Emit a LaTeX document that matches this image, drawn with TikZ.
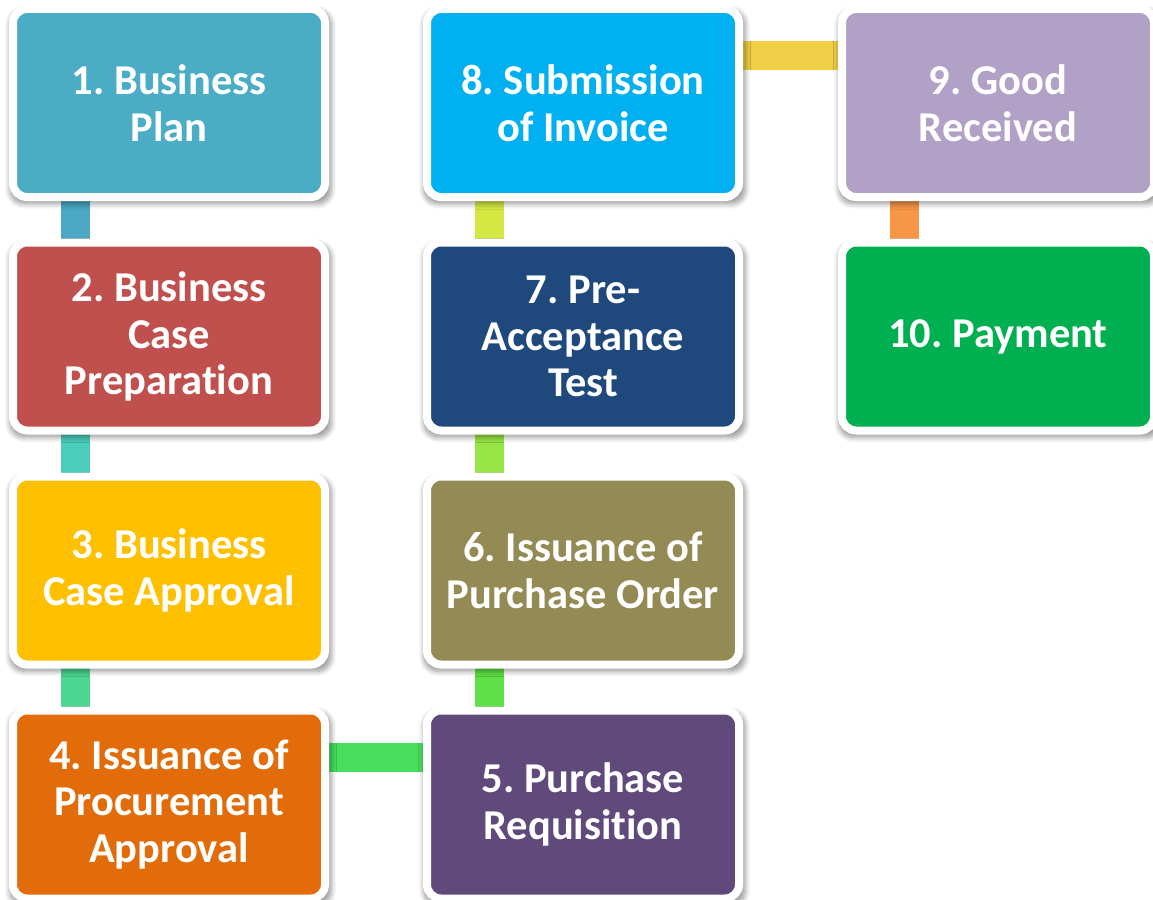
\documentclass[tikz,border=0pt]{standalone}
\usepackage{fontspec}
\setmainfont{Carlito}[Ligatures=NoCommon]
\frenchspacing
\usetikzlibrary{shadows.blur,backgrounds}

% box fills
\definecolor{boxA}{HTML}{4BACC6}
\definecolor{boxB}{HTML}{C0504D}
\definecolor{boxC}{HTML}{FFC000}
\definecolor{boxD}{HTML}{E36C0A}
\definecolor{boxE}{HTML}{604A7B}
\definecolor{boxF}{HTML}{948A54}
\definecolor{boxG}{HTML}{1F497D}
\definecolor{boxH}{HTML}{00B0F0}
\definecolor{boxI}{HTML}{B2A1C7}
\definecolor{boxJ}{HTML}{00B050}
% connector bars
\definecolor{linkAB}{HTML}{4AA8C4}
\definecolor{linkBC}{HTML}{4BCDBB}
\definecolor{linkCD}{HTML}{4CD690}
\definecolor{linkDE}{HTML}{4ADE5E}
\definecolor{linkEF}{HTML}{5EE146}
\definecolor{linkFG}{HTML}{98E646}
\definecolor{linkGH}{HTML}{D4E843}
\definecolor{linkHI}{HTML}{F0CE46}
\definecolor{linkIJ}{HTML}{F79646}

\begin{document}
\begin{tikzpicture}[x=1pt,y=-1pt,
  stepbox/.style={rectangle, rounded corners=14pt, draw=white, line width=8pt,
    minimum width=312pt, minimum height=188pt, inner sep=0pt, outer sep=0pt,
    text=white, align=center,
    font=\fontsize{42.5}{46.5}\selectfont\bfseries,
    blur shadow={shadow xshift=1.5pt, shadow yshift=-4pt, shadow scale=1.03,
      shadow opacity=40, shadow blur radius=5pt, shadow blur steps=8}},
  bar/.style={line width=29pt}
]
\useasboundingbox (0,0) rectangle (1153,899);

% left column
\node[stepbox, fill=boxA] (b1) at (169,103)   {1. Business\\Plan};
\node[stepbox, fill=boxB] (b2) at (169,336.5) {2. Business\\Case\\Preparation};
\node[stepbox, fill=boxC] (b3) at (169,570.5) {3. Business\\Case Approval};
\node[stepbox, fill=boxD] (b4) at (169,804.5) {4. Issuance of\\Procurement\\Approval};
% middle column
\node[stepbox, fill=boxE] (b5) at (583,804.5) {5. Purchase\\Requisition};
\node[stepbox, fill=boxF] (b6) at (583,570.5) {6. Issuance of\\Purchase Order};
\node[stepbox, fill=boxG] (b7) at (583,336.5) {7. Pre-\\Acceptance\\Test};
\node[stepbox, fill=boxH] (b8) at (583,103)   {8. Submission\\of Invoice};
% right column
\node[stepbox, fill=boxI] (b9) at (998,103)   {9. Good\\Received};
\node[stepbox, fill=boxJ] (b10) at (998,336.5) {10. Payment};

% connector bars, kept behind the boxes
\begin{scope}[on background layer]
  \draw[bar, linkAB] ([xshift=62.5pt]b1.south west) -- ([xshift=62.5pt]b2.north west);
  \draw[bar, linkBC] ([xshift=62.5pt]b2.south west) -- ([xshift=62.5pt]b3.north west);
  \draw[bar, linkCD] ([xshift=62.5pt]b3.south west) -- ([xshift=62.5pt]b4.north west);
  \draw[bar, linkDE] ([yshift=-46.5pt]b4.north east) -- ([yshift=-46.5pt]b5.north west);
  \draw[bar, linkEF] ([xshift=62.5pt]b5.north west) -- ([xshift=62.5pt]b6.south west);
  \draw[bar, linkFG] ([xshift=62.5pt]b6.north west) -- ([xshift=62.5pt]b7.south west);
  \draw[bar, linkGH] ([xshift=62.5pt]b7.north west) -- ([xshift=62.5pt]b8.south west);
  \draw[bar, linkHI] ([yshift=-46.5pt]b8.north east) -- ([yshift=-46.5pt]b9.north west);
  \draw[bar, linkIJ] ([xshift=62.5pt]b9.south west) -- ([xshift=62.5pt]b10.north west);
\end{scope}
\end{tikzpicture}
\end{document}
